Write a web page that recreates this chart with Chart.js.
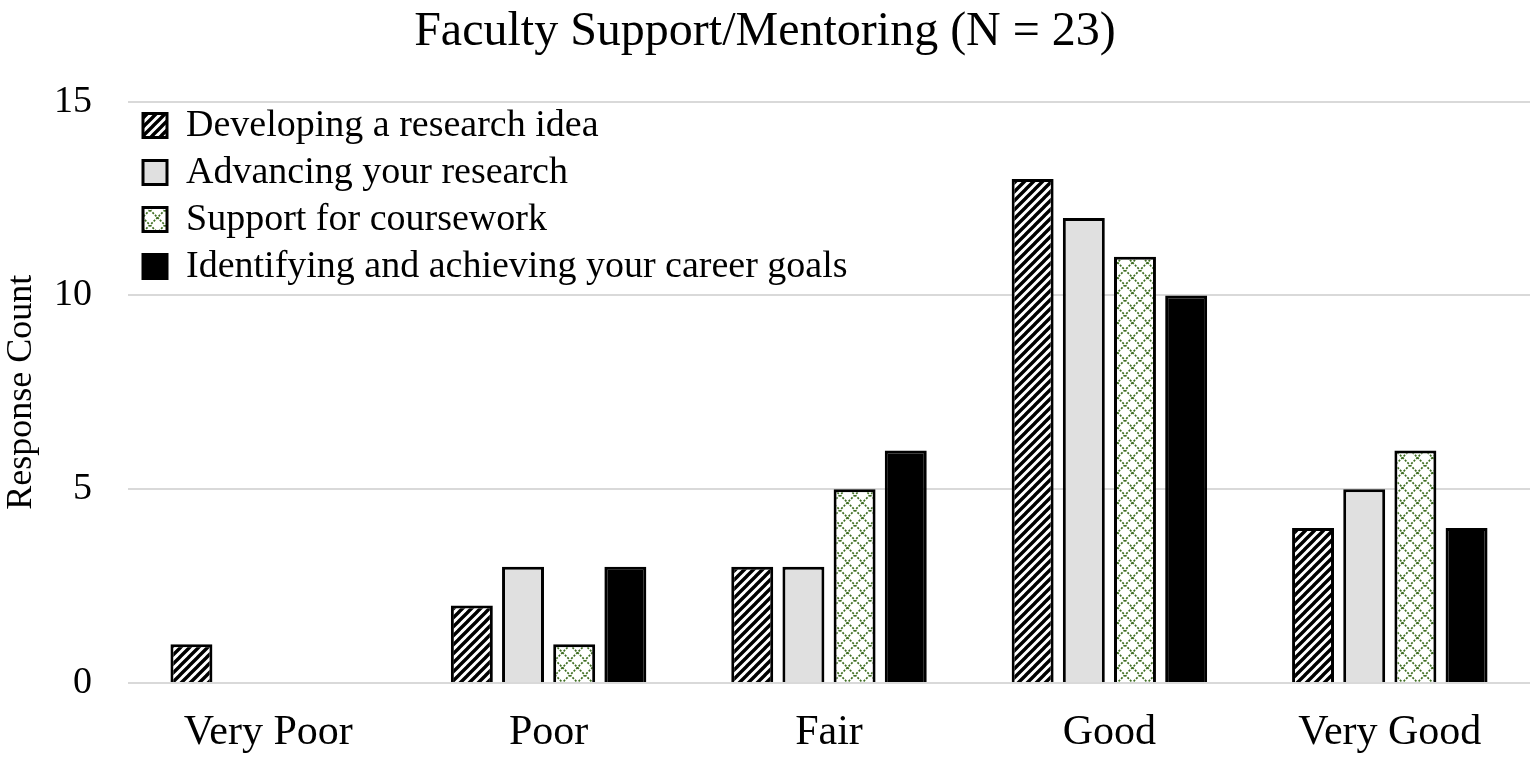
<!DOCTYPE html>
<html>
<head>
<meta charset="utf-8">
<script src="https://cdn.jsdelivr.net/npm/chart.js@4.4.1/dist/chart.umd.min.js"></script>
<style>
  html, body { margin: 0; padding: 0; background: #ffffff; }
  #wrap { width: 1535px; height: 758px; position: relative; }
</style>
</head>
<body>
<div id="wrap"><canvas id="c"></canvas></div>
<script>
const chartTitle = "Faculty Support/Mentoring (N = 23)";
const categories = ["Very Poor", "Poor", "Fair", "Good", "Very Good"];
const seriesNames = [
  "Developing a research idea",
  "Advancing your research",
  "Support for coursework",
  "Identifying and achieving your career goals"
];
const developingIdea = [1, 2, 3, 13, 4];
const advancingResearch = [0, 3, 3, 12, 5];
const courseworkSupport = [0, 1, 5, 11, 6];
const careerGoals = [0, 3, 6, 10, 4];
const yTicks = [0, 5, 10, 15];
const yAxisTitle = "Response Count";

function stripePattern() {
  const s = 9;
  const t = document.createElement('canvas');
  t.width = s; t.height = s;
  const g = t.getContext('2d');
  g.fillStyle = '#ffffff';
  g.fillRect(0, 0, s, s);
  g.strokeStyle = '#000000';
  g.lineWidth = 3.4;
  g.beginPath();
  for (let k = -1; k <= 1; k++) {
    g.moveTo(k * s - 1, s + 1);
    g.lineTo(k * s + s + 1, -1);
  }
  g.stroke();
  return g.createPattern(t, 'repeat');
}

function latticePattern() {
  const s = 15;
  const t = document.createElement('canvas');
  t.width = s; t.height = s;
  const g = t.getContext('2d');
  g.fillStyle = '#ffffff';
  g.fillRect(0, 0, s, s);
  g.strokeStyle = '#3f6e22';
  g.lineWidth = 1.7;
  g.setLineDash([2, 1.5]);
  g.beginPath();
  g.moveTo(0, 0); g.lineTo(s, s);
  g.moveTo(s, 0); g.lineTo(0, s);
  g.stroke();
  return g.createPattern(t, 'repeat');
}

const fills = [stripePattern(), '#e0e0e0', latticePattern(), '#000000'];
const values = [developingIdea, advancingResearch, courseworkSupport, careerGoals];

const serif = "'Liberation Serif', 'Times New Roman', serif";

const legendPlace = {
  id: 'legendPlace',
  afterLayout(chart) {
    const lg = chart.legend;
    if (!lg) return;
    const h = lg.height;
    const w = lg.width;
    lg.left = chart.chartArea.left + 6;
    lg.right = lg.left + w;
    lg.top = chart.chartArea.top - 4;
    lg.bottom = lg.top + h;
  }
};

new Chart(document.getElementById('c'), {
  type: 'bar',
  data: {
    labels: categories,
    datasets: values.map((v, i) => ({
      label: seriesNames[i],
      data: v,
      backgroundColor: fills[i],
      borderColor: '#000000',
      borderWidth: 3,
      categoryPercentage: 0.73,
      barPercentage: 0.82
    }))
  },
  plugins: [legendPlace],
  options: {
    responsive: true,
    maintainAspectRatio: false,
    animation: false,
    layout: { padding: { left: 0, right: 5, top: 0, bottom: 0 } },
    plugins: {
      title: {
        display: true,
        text: chartTitle,
        color: '#000000',
        font: { family: serif, size: 48, weight: 'normal' },
        padding: { top: 4, bottom: 40 }
      },
      legend: {
        position: 'chartArea',
        align: 'start',
        labels: {
          color: '#000000',
          font: { family: serif, size: 38 },
          boxWidth: 24,
          boxHeight: 24,
          padding: 9
        }
      },
      tooltip: { enabled: false }
    },
    scales: {
      x: {
        afterFit(scale) { scale.height = 75; },
        grid: { display: false },
        border: { display: false },
        ticks: {
          color: '#000000',
          font: { family: serif, size: 42 },
          padding: 17,
          maxRotation: 0
        }
      },
      y: {
        min: 0,
        max: 15,
        afterFit(scale) { scale.width = 128; },
        afterBuildTicks(scale) { scale.ticks = yTicks.map(v => ({ value: v })); },
        grid: { color: '#d9d9d9', lineWidth: 2, drawTicks: false },
        border: { display: false },
        ticks: {
          color: '#000000',
          font: { family: serif, size: 38 },
          padding: 36
        },
        title: {
          display: true,
          text: yAxisTitle,
          color: '#000000',
          font: { family: serif, size: 36 },
          padding: { top: 0, bottom: 0 }
        }
      }
    }
  }
});
</script>
</body>
</html>
